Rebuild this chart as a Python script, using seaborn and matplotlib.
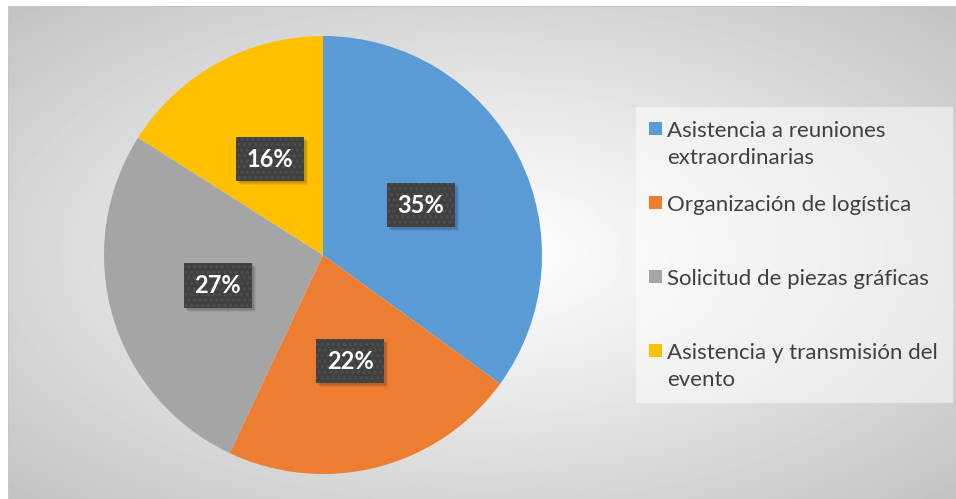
import numpy as np
import matplotlib
matplotlib.use("Agg")
import matplotlib.pyplot as plt
from matplotlib.patches import Rectangle
import seaborn as sns

# data
categories = [
    "Asistencia a reuniones\nextraordinarias",
    "Organización de logística",
    "Solicitud de piezas gráficas",
    "Asistencia y transmisión del\nevento",
]
shares = [35, 22, 27, 16]
colors = ["#5B9BD5", "#ED7D31", "#A5A5A5", "#FFC000"]

sns.set_style("white")
plt.rcParams["font.family"] = ["Lato", "DejaVu Sans"]
plt.rcParams["hatch.linewidth"] = 1.5

W, H = 956, 499
fig = plt.figure(figsize=(W / 100, H / 100), dpi=100)

# radial gray background of the chart area
bg = fig.add_axes([0, 0, 1, 1], zorder=-5)
yy, xx = np.mgrid[0:H, 0:W]
cx, cy = (8 + W) / 2, (6 + H) / 2
r = np.sqrt(((xx - cx) / (W - 8) * 2) ** 2 + ((yy - cy) / (H - 6) * 2) ** 2) / np.sqrt(2)
shade = 1.0 - (1.0 - 0.76) * np.clip(r, 0, 1) ** 1.1
shade[:, :8] = 1.0
shade[:6, :] = 1.0
shade[6:, 8] = 0.78
shade[6, 8:] = 0.78
bg.imshow(shade, cmap="gray", vmin=0, vmax=1, aspect="auto", interpolation="nearest")
bg.axis("off")

# legend box
bg.add_patch(Rectangle((636, 106), 317, 297, facecolor="white", alpha=0.5, edgecolor="none"))

# pie
cxp, cyp, rad = 323, 255, 219
ax = fig.add_axes([(cxp - rad) / W, (H - cyp - rad) / H, 2 * rad / W, 2 * rad / H])
wedges, _ = ax.pie(shares, colors=colors, startangle=90, counterclock=False,
                   wedgeprops=dict(linewidth=0))
ax.set_xlim(-1, 1)
ax.set_ylim(-1, 1)
ax.set_aspect("equal")
ax.axis("off")

total = sum(shares)
labels = []
for w, v in zip(wedges, shares):
    ang = np.deg2rad((w.theta1 + w.theta2) / 2)
    t = ax.text(0.5 * np.cos(ang), 0.5 * np.sin(ang), f"{v / total:.0%}",
                ha="center", va="center", color="white", fontsize=17,
                fontweight="bold", zorder=5,
                bbox=dict(boxstyle="square,pad=0.45", facecolor="#404040",
                          edgecolor="#4f4f4f", linewidth=0, hatch="..."))
    labels.append(t)

# soft drop shadow behind each label box
fig.canvas.draw()
for t in labels:
    bb = t.get_bbox_patch().get_window_extent()
    for k, a in [(4, 0.06), (3, 0.08), (2, 0.1)]:
        fig.add_artist(Rectangle((bb.x0 + k, bb.y0 - k), bb.width, bb.height,
                                 transform=None, facecolor="black", alpha=a,
                                 edgecolor="none", zorder=1))
for t in labels:
    t.remove()
    fig.add_artist(t)
    t.set_zorder(5)

# legend entries: baseline of first line 137 px from top, 74 px apart, 27 px line step
for i, (lab, col) in enumerate(zip(categories, colors)):
    base = 137 + 74 * i
    fig.add_artist(Rectangle((649 / W, 1 - (base - 2) / H), 13 / W, 13 / H,
                             facecolor=col, edgecolor="none", transform=fig.transFigure))
    for j, line in enumerate(lab.split("\n")):
        fig.text(667 / W, 1 - (base + 27 * j) / H, line, ha="left", va="baseline",
                 fontsize=16, color="#404040")

fig.savefig("out.png", dpi=100)
